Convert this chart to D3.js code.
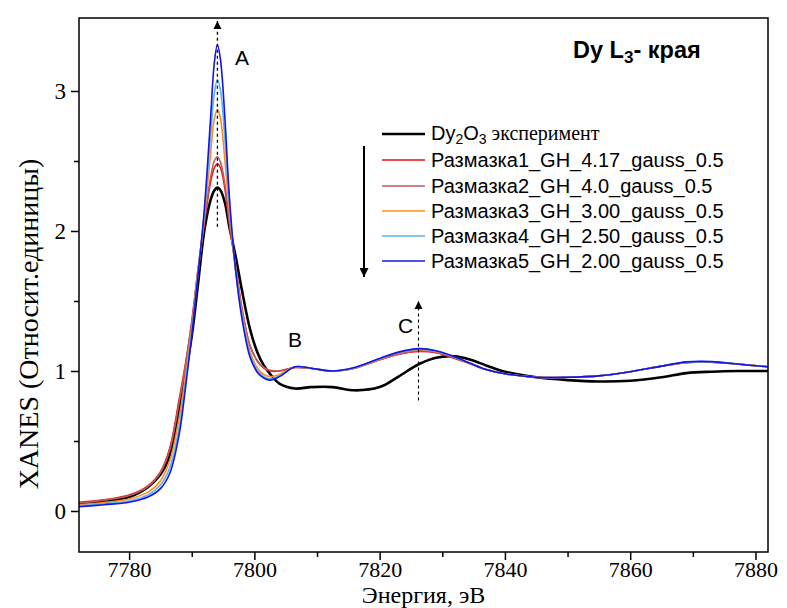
<!DOCTYPE html>
<html><head><meta charset="utf-8">
<script src="https://cdn.jsdelivr.net/npm/d3@7"></script>
<style>body{margin:0;background:#fff}</style>
</head><body><svg id="c" width="787" height="608"></svg>
<script>
// ---------- data ----------
const energy = [7772,7776,7780,7783,7785,7786.5,7788,7789,7790,7791,7792,7793,7793.6,7794.1,7794.6,7795.3,7796,7797,7798,7799.3,7800.5,7801.5,7802.5,7804,7806.5,7809,7812.5,7816,7820,7823,7826.3,7829,7832,7834.5,7837,7840,7845,7850,7855,7860,7865,7869,7873,7877,7882];
const expDy2O3 = [0.05,0.07,0.10,0.17,0.26,0.40,0.72,0.98,1.25,1.62, 2.0,2.22,2.29,2.31,2.29,2.2,2.03,1.82,1.58,1.3, 1.13,1.04,0.98,0.91,0.875,0.885,0.885,0.862,0.885,0.96, 1.05,1.095,1.105,1.08,1.04,0.995,0.955,0.935,0.925,0.93, 0.955,0.985,0.995,1.0,1.0];
const smear1 = [0.062,0.08,0.114,0.18,0.28,0.45,0.8,1.05,1.35,1.72, 2.05,2.35,2.45,2.48,2.45,2.3,2.05,1.75,1.45,1.18, 1.07,1.02,1.0,1.0,1.025,1.02,1.0,1.02,1.08,1.12, 1.14,1.13,1.09,1.05,1.01,0.98,0.955,0.955,0.965,0.995, 1.035,1.06,1.063,1.05,1.03];
const smear2 = [0.058,0.077,0.11,0.175,0.275,0.44,0.78,1.04,1.35,1.73, 2.07,2.38,2.5,2.53,2.49,2.33,2.07,1.75,1.45,1.18, 1.07,1.025,1.005,1.0,1.025,1.02,1.0,1.02,1.08,1.12, 1.145,1.135,1.095,1.052,1.01,0.98,0.955,0.955,0.965,0.995, 1.035,1.06,1.063,1.05,1.03];
const smear3 = [0.045,0.06,0.086,0.135,0.215,0.36,0.67,0.97,1.3,1.7, 2.1,2.55,2.8,2.87,2.8,2.5,2.15,1.72,1.42,1.14, 1.02,0.975,0.96,0.975,1.03,1.02,1.0,1.022,1.085,1.13, 1.152,1.14,1.097,1.053,1.01,0.98,0.955,0.955,0.965,0.995, 1.035,1.062,1.065,1.05,1.03];
const smear4 = [0.038,0.052,0.072,0.115,0.185,0.31,0.6,0.92,1.28,1.7, 2.12,2.68,2.98,3.08,3.0,2.65,2.2,1.72,1.4,1.12, 1.0,0.96,0.945,0.965,1.03,1.02,1.0,1.024,1.088,1.133, 1.156,1.143,1.099,1.054,1.01,0.98,0.955,0.955,0.965,0.995, 1.035,1.063,1.066,1.05,1.03];
const smear5 = [0.03,0.045,0.063,0.10,0.16,0.27,0.55,0.88,1.25,1.68, 2.15,2.8,3.2,3.33,3.22,2.8,2.25,1.72,1.38,1.1, 0.99,0.95,0.935,0.96,1.03,1.02,1.0,1.025,1.09,1.135, 1.16,1.145,1.1,1.055,1.01,0.98,0.955,0.955,0.965,0.995, 1.035,1.065,1.067,1.05,1.03];
const seriesNames = ["Размазка1_GH_4.17_gauss_0.5","Размазка2_GH_4.0_gauss_0.5","Размазка3_GH_3.00_gauss_0.5","Размазка4_GH_2.50_gauss_0.5","Размазка5_GH_2.00_gauss_0.5"];
const xTicks = [7780,7800,7820,7840,7860,7880];
const xMinor = [7790,7810,7830,7850,7870];
const yTicks = [0,1,2,3];
const yMinor = [0.5,1.5,2.5];

// ---------- layout ----------
const svg = d3.select("#c");
const L=79, R=768, T=18, B=552;
const x = d3.scaleLinear().domain([7772,7882]).range([L,R]);
const y = d3.scaleLinear().domain([0,3]).range([511,91]);
const colors = ["#e8101a","#bf5a5c","#ff8c1a","#5ab4ec","#1414e6"];
const sims = [smear1,smear2,smear3,smear4,smear5];

const defs = svg.append("defs");
defs.append("clipPath").attr("id","clip").append("rect").attr("x",L).attr("y",T).attr("width",R-L).attr("height",B-T);
defs.append("marker").attr("id","ah").attr("viewBox","0 0 10 10").attr("refX",10).attr("refY",5)
  .attr("markerWidth",8).attr("markerHeight",9).attr("markerUnits","userSpaceOnUse").attr("orient","auto")
  .append("path").attr("d","M0,0 L10,5 L0,10 Z").attr("fill","#000");
defs.append("marker").attr("id","ah2").attr("viewBox","0 0 10 10").attr("refX",10).attr("refY",5)
  .attr("markerWidth",10).attr("markerHeight",9).attr("markerUnits","userSpaceOnUse").attr("orient","auto")
  .append("path").attr("d","M0,0 L10,5 L0,10 Z").attr("fill","#000");

const line = d3.line().x(d=>x(d[0])).y(d=>y(d[1])).curve(d3.curveCatmullRom.alpha(0.5));
const g = svg.append("g").attr("clip-path","url(#clip)");
g.append("path").datum(energy.map((e,i)=>[e,expDy2O3[i]])).attr("d",line)
  .attr("fill","none").attr("stroke","#000").attr("stroke-width",2.6);
sims.forEach((s,k)=>{
  g.append("path").datum(energy.map((e,i)=>[e,s[i]])).attr("d",line)
    .attr("fill","none").attr("stroke",colors[k]).attr("stroke-width",1.6);
});

// annotations
svg.append("line").attr("x1",x(7794.1)).attr("x2",x(7794.1)).attr("y1",y(2.03)).attr("y2",y(3.5))
  .attr("stroke","#000").attr("stroke-width",1.3).attr("stroke-dasharray","3,3").attr("marker-end","url(#ah)");
svg.append("line").attr("x1",x(7826.2)).attr("x2",x(7826.2)).attr("y1",y(0.79)).attr("y2",y(1.5))
  .attr("stroke","#000").attr("stroke-width",1.1).attr("stroke-dasharray","3,3").attr("marker-end","url(#ah)");
svg.append("line").attr("x1",364).attr("x2",364).attr("y1",146).attr("y2",277)
  .attr("stroke","#000").attr("stroke-width",2).attr("marker-end","url(#ah2)");

const sans = "'Liberation Sans', Arial, sans-serif";
const serif = "'Liberation Serif', 'Times New Roman', serif";
[["A",235,65],["B",288,347],["C",398,333]].forEach(a=>{
  svg.append("text").attr("x",a[1]).attr("y",a[2]).text(a[0]).attr("font-family",sans).attr("font-size",21);
});

// title
const tt = svg.append("text").attr("x",573).attr("y",58).attr("font-family",sans).attr("font-size",23.5).attr("font-weight","bold");
tt.append("tspan").text("Dy L");
tt.append("tspan").text("3").attr("font-size",17).attr("dy",5);
tt.append("tspan").text("- края").attr("dy",-5);

// legend
const lx1=382, lx2=425, tx=431;
const rows=[134,160,186,211,236,261];
svg.append("line").attr("x1",lx1).attr("x2",lx2).attr("y1",rows[0]).attr("y2",rows[0]).attr("stroke","#000").attr("stroke-width",2.6);
const lt = svg.append("text").attr("x",tx).attr("y",rows[0]+6).attr("font-family",sans).attr("font-size",20);
lt.append("tspan").text("Dy");
lt.append("tspan").text("2").attr("font-size",14).attr("dy",4);
lt.append("tspan").text("O").attr("dy",-4);
lt.append("tspan").text("3").attr("font-size",14).attr("dy",4);
lt.append("tspan").text(" эксперимент").attr("dy",-4).attr("font-family",serif).attr("font-size",20);
seriesNames.forEach((n,k)=>{
  const yy=rows[k+1];
  svg.append("line").attr("x1",lx1).attr("x2",lx2).attr("y1",yy).attr("y2",yy).attr("stroke",colors[k]).attr("stroke-width",1.6);
  svg.append("text").attr("x",tx).attr("y",yy+7).text(n).attr("font-family",sans).attr("font-size",20);
});

// axes
svg.append("rect").attr("x",L).attr("y",T).attr("width",R-L).attr("height",B-T).attr("fill","none").attr("stroke","#000").attr("stroke-width",1.5);
svg.append("g").attr("transform",`translate(0,${B})`)
  .call(d3.axisBottom(x).tickValues(xTicks).tickSize(8).tickSizeOuter(0).tickPadding(1).tickFormat(d3.format("d")));
svg.append("g").attr("transform",`translate(0,${B})`)
  .call(d3.axisBottom(x).tickValues(xMinor).tickSize(5).tickSizeOuter(0).tickFormat(""));
svg.append("g").attr("transform",`translate(${L},0)`)
  .call(d3.axisLeft(y).tickValues(yTicks).tickSize(8).tickSizeOuter(0).tickPadding(5).tickFormat(d3.format("d")));
svg.append("g").attr("transform",`translate(${L},0)`)
  .call(d3.axisLeft(y).tickValues(yMinor).tickSize(5).tickSizeOuter(0).tickFormat(""));
svg.selectAll(".domain").remove();
svg.selectAll(".tick line").attr("stroke","#000").attr("stroke-width",1.5);
svg.selectAll(".tick text").attr("font-family",serif).attr("font-size",22).attr("fill","#000");
svg.selectAll(".tick text").filter(function(){return this.getAttribute("x")!==null && this.parentNode.parentNode.getAttribute("transform").indexOf("translate(79")===0;}).attr("font-size",23);

svg.append("text").attr("x",(L+R)/2).attr("y",603).attr("text-anchor","middle").attr("font-family",serif).attr("font-size",24).text("Энергия, эВ");
svg.append("text").attr("transform",`translate(38,324) rotate(-90)`).attr("text-anchor","middle").attr("font-family",serif).attr("font-size",28).text("XANES (Относит.единицы)");
</script></body></html>
